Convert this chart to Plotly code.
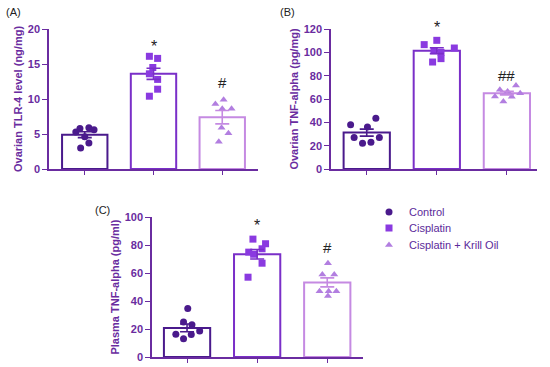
import plotly.graph_objects as go

groups = ["Control", "Cisplatin", "Cisplatin + Krill Oil"]

# Panel A: Ovarian TLR-4 (ng/mg)
tlr4_points = [[5.9, 5.8, 5.6, 5.3, 4.6, 3.7, 3.0],
               [16.1, 15.8, 14.5, 13.6, 12.8, 11.4, 10.4],
               [9.9, 9.3, 8.6, 8.6, 5.9, 5.1, 3.9]]
tlr4_mean = [4.9, 13.6, 7.4]
tlr4_sem = [0.42, 0.8, 0.95]

# Panel B: Ovarian TNF-alpha (pg/mg)
otnf_points = [[43.5, 38, 36, 27, 27, 22, 23],
               [110.3, 106.6, 103.7, 101.4, 100, 94.6, 91.7],
               [71.6, 67.9, 66.5, 65, 62.2, 62, 57.9]]
otnf_mean = [31.2, 101.4, 65.0]
otnf_sem = [3.0, 2.5, 1.5]

# Panel C: Plasma TNF-alpha (pg/ml)
ptnf_points = [[34.7, 25, 23, 18.5, 16.3, 16, 13],
               [84.2, 80.9, 77.3, 74.9, 73.4, 67, 57],
               [67, 59, 59, 47, 47, 47, 43.5]]
ptnf_mean = [20.8, 73.4, 53.3]
ptnf_sem = [2.8, 3.4, 3.2]

sig_labels = [["", "*", "#"], ["", "*", "##"], ["", "*", "#"]]
sig_y = [[0, 17.8, 12.3], [0, 123, 80], [0, 95.7, 78]]

# horizontal scatter of the dots within each bar (category units)
jitter_a = [[0.06, -0.07, 0.135, -0.13, 0.0, 0.06, -0.06],
            [-0.06, 0.06, -0.01, -0.06, 0.06, 0.06, -0.06],
            [0.02, -0.1, 0.0, 0.135, -0.01, 0.09, -0.05]]
jitter_b = [[0.13, -0.23, 0.01, -0.18, 0.18, -0.06, 0.06],
            [0.0, -0.18, 0.25, -0.04, 0.06, 0.06, -0.06],
            [0.13, -0.1, 0.01, 0.19, -0.17, 0.07, -0.05]]
jitter_c = [[0.01, -0.05, 0.07, 0.18, -0.16, 0.06, -0.05],
            [-0.06, 0.12, 0.07, -0.12, -0.05, 0.07, -0.13],
            [0.01, -0.07, 0.1, -0.11, 0.02, 0.13, 0.01]]

line_cols = ["#4a1a8c", "#7a2fc8", "#c58ae2"]
mark_cols = ["#4a1a8c", "#8a3ae0", "#b27ee0"]
symbols = ["circle", "square", "triangle-up"]
axis_col = "#6a2ca0"
FONT = "Arial, Liberation Sans, sans-serif"
legend_names = ["legend", "legend2", "legend3"]
legend_ypx = [212, 228, 245]

panels = [
    dict(pts=tlr4_points, mean=tlr4_mean, sem=tlr4_sem, jit=jitter_a, ymax=20, dtick=5,
         title="Ovarian TLR-4 level (ng/mg)", xd=[49/550, 258/550], yd=[1-169/367, 1-29/367],
         xr=[-0.52, 2.52]),
    dict(pts=otnf_points, mean=otnf_mean, sem=otnf_sem, jit=jitter_b, ymax=120, dtick=20,
         title="Ovarian TNF-alpha (pg/mg)", xd=[331/550, 537/550], yd=[1-169/367, 1-29/367],
         xr=[-0.51, 2.43]),
    dict(pts=ptnf_points, mean=ptnf_mean, sem=ptnf_sem, jit=jitter_c, ymax=100, dtick=20,
         title="Plasma TNF-alpha (pg/ml)", xd=[152/550, 363/550], yd=[1-357/367, 1-217/367],
         xr=[-0.5, 2.51]),
]

fig = go.Figure()
layout = {}
for p_i, p in enumerate(panels):
    sfx = "" if p_i == 0 else str(p_i + 1)
    xa, ya = "x" + sfx, "y" + sfx
    for g in range(3):
        fig.add_trace(go.Bar(
            x=[g], y=[p["mean"][g]], width=0.66, xaxis=xa, yaxis=ya,
            marker=dict(color="white", line=dict(color=line_cols[g], width=2)),
            showlegend=False, hoverinfo="skip"))
    for g in range(3):
        fig.add_trace(go.Scatter(
            x=[g + j for j in p["jit"][g]], y=p["pts"][g], mode="markers",
            xaxis=xa, yaxis=ya, name=groups[g], showlegend=(p_i == 0),
            legend=legend_names[g],
            marker=dict(symbol=symbols[g], color=mark_cols[g], size=7)))
    for g in range(3):
        fig.add_trace(go.Scatter(
            x=[g], y=[p["mean"][g]], mode="markers", xaxis=xa, yaxis=ya,
            marker=dict(size=0.1, color=line_cols[g]), showlegend=False,
            error_y=dict(type="data", array=[p["sem"][g]], color=line_cols[g],
                         thickness=1.6, width=7)))
    y0, y1 = p["yd"]
    for g in range(3):
        if sig_labels[p_i][g]:
            py = y0 + sig_y[p_i][g] / p["ymax"] * (y1 - y0)
            is_star = sig_labels[p_i][g] == "*"
            fig.add_annotation(x=g, y=py, xref=xa, yref="paper",
                               xanchor="center", yanchor="middle",
                               yshift=(-2 if is_star else 0),
                               text=sig_labels[p_i][g], showarrow=False,
                               font=dict(family=FONT, size=(16 if is_star else 15),
                                         color="#222222"))
    layout["xaxis" + sfx] = dict(
        domain=p["xd"], anchor=ya, range=p["xr"], showline=True, linecolor=axis_col,
        linewidth=1.5, tickmode="array", tickvals=[0, 1, 2], ticktext=["", "", ""],
        ticks="outside", ticklen=4, tickcolor=axis_col, showgrid=False, zeroline=False,
        automargin=False)
    layout["yaxis" + sfx] = dict(
        domain=p["yd"], anchor=xa, range=[0, p["ymax"]], dtick=p["dtick"],
        showline=True, linecolor=axis_col, linewidth=1.5, ticks="outside", ticklen=5,
        tickcolor=axis_col, showgrid=False, zeroline=False, automargin=False,
        tickfont=dict(family=FONT, size=11, color=axis_col, weight="bold"),
        title=dict(text="<b>" + p["title"] + "</b>", standoff=3,
                   font=dict(family=FONT, size=11, color=axis_col)))

for txt, x, y in [("(A)", 4, 12), ("(B)", 278, 12), ("(C)", 93, 210)]:
    fig.add_annotation(x=x/550, y=1-y/367, xref="paper", yref="paper", text=txt,
                       showarrow=False, xanchor="left", yanchor="middle",
                       font=dict(family=FONT, size=11, color="#222222"))

for ln, ypx in zip(legend_names, legend_ypx):
    layout[ln] = dict(x=369/550, y=1-ypx/367, xanchor="left", yanchor="middle",
                      font=dict(family=FONT, size=11, color="#5b2a9a"),
                      bgcolor="rgba(0,0,0,0)", borderwidth=0)

fig.update_layout(
    width=550, height=367, margin=dict(l=0, r=0, t=0, b=0, autoexpand=False),
    paper_bgcolor="white", plot_bgcolor="white", barmode="overlay",
    **layout)

fig.write_html("out.html", config={"displayModeBar": False},
               post_script="document.body.style.margin='0';document.body.style.overflow='hidden';")
